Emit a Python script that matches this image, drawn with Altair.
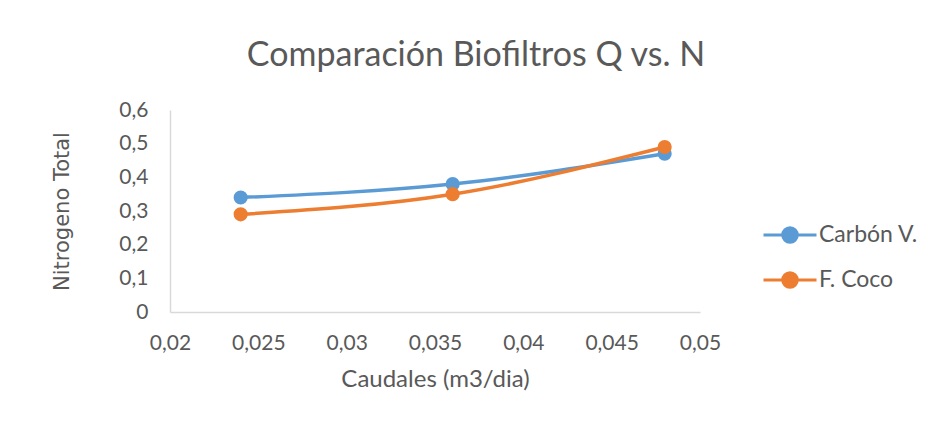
import altair as alt
import pandas as pd

caudales = [0.024, 0.036, 0.048]
carbon_v = [0.34, 0.38, 0.47]
f_coco = [0.29, 0.35, 0.49]
series = ["Carbón V.", "F. Coco"]
colors = ["#5B9BD5", "#ED7D31"]
x_ticks = [0.02, 0.025, 0.03, 0.035, 0.04, 0.045, 0.05]
y_ticks = [0, 0.1, 0.2, 0.3, 0.4, 0.5, 0.6]

rows = []
for name, vals in zip(series, [carbon_v, f_coco]):
    for q, v in zip(caudales, vals):
        rows.append({"Caudal": q, "N": v, "Serie": name})
df = pd.DataFrame(rows)

fmt = "replace(format(datum.value, '.3~f'), '.', ',')"
txt = "#595959"
font = "Lato"

x = alt.X(
    "Caudal:Q",
    scale=alt.Scale(domain=[0.02, 0.05], nice=False, zero=False),
    axis=alt.Axis(
        values=x_ticks, labelExpr=fmt, title="Caudales (m3/dia)", grid=False,
        ticks=False, domainColor="#D9D9D9", domainWidth=1.5, labelPadding=20,
        labelFlush=False, labelFont=font, labelFontSize=21, labelColor=txt,
        titleFont=font, titleFontSize=24, titleColor=txt, titleFontWeight="normal",
        titlePadding=14,
    ),
)
y = alt.Y(
    "N:Q",
    scale=alt.Scale(domain=[0, 0.6], nice=False),
    axis=alt.Axis(
        values=y_ticks, labelExpr=fmt, title="Nitrogeno Total", grid=False,
        ticks=False, domainColor="#D9D9D9", domainWidth=1.5, labelPadding=22,
        labelFlush=False, labelFont=font, labelFontSize=21, labelColor=txt,
        titleFont="DejaVu Sans", titleFontSize=21, titleColor=txt,
        titleFontWeight="normal", titlePadding=46,
    ),
)
sc = alt.Scale(domain=series, range=colors)
leg = alt.Legend(
    title=None, orient="none", legendX=605, legendY=110,
    symbolType="M-2,0H2M-0.55,0A0.55,0.55 0 1,1 0.55,0A0.55,0.55 0 1,1 -0.55,0Z",
    symbolSize=702, symbolStrokeWidth=3, symbolOpacity=1, labelFont=font,
    labelFontSize=23, labelColor=txt, labelOffset=14, rowPadding=16, padding=0,
)

line = alt.Chart(df).mark_line(interpolate="monotone", strokeWidth=3.5).encode(
    x=x, y=y, stroke=alt.Stroke("Serie:N", scale=sc, legend=leg)
)
points = alt.Chart(df).mark_point(size=200, filled=True, opacity=1, strokeWidth=0).encode(
    x=x, y=y,
    fill=alt.Fill("Serie:N", scale=sc, legend=leg),
    stroke=alt.Stroke("Serie:N", scale=sc, legend=leg),
)

chart = (
    alt.layer(line, points)
    .properties(
        width=530, height=202,
        autosize=alt.AutoSizeParams(type="none"),
        padding={"left": 162, "top": 102, "right": 222, "bottom": 104},
        title=alt.Title(
            "Comparación Biofiltros Q vs. N", font=font, fontSize=34, color=txt,
            fontWeight="normal", anchor="middle", frame="group", dx=41, offset=26,
        ),
    )
    .configure(background="white")
    .configure_view(stroke=None)
)

chart.save("out.html", embed_options={"renderer": "svg", "actions": False})
